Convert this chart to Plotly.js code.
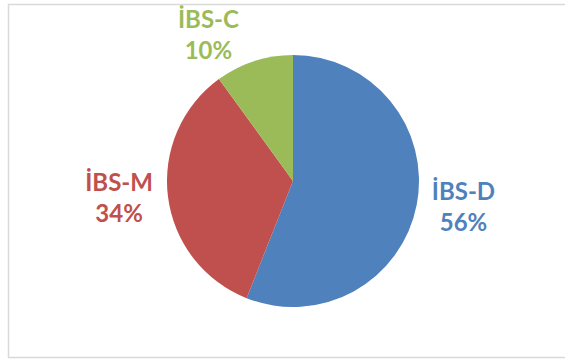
<!DOCTYPE html>
<html>
<head>
<meta charset="utf-8">
<script src="https://cdn.plot.ly/plotly-3.0.1.min.js"></script>
<style>html,body{margin:0;padding:0;background:#fff;}#chart{width:565px;height:359px;}</style>
</head>
<body>
<div id="chart"></div>
<script>
const categories = ["İBS-D", "İBS-M", "İBS-C"];
const values = [56, 34, 10];
const colors = ["#4F81BD", "#C0504D", "#9BBB59"];

const W = 565, H = 359;
const cx = 293, cy = 181, r = 126;

const trace = {
  type: "pie",
  labels: categories,
  values: values,
  sort: false,
  direction: "clockwise",
  rotation: 0,
  marker: {colors: colors, line: {width: 0}},
  textposition: "outside",
  texttemplate: "%{label}<br>%{percent:.0%}",
  outsidetextfont: {family: "Lato, 'Open Sans', sans-serif", size: 24, color: colors, weight: "bold"},
  automargin: false,
  showlegend: false,
  hoverinfo: "none",
  domain: {
    x: [(cx - r) / W, (cx + r) / W],
    y: [(H - cy - r) / H, (H - cy + r) / H]
  }
};

const layout = {
  width: W, height: H,
  margin: {l: 0, r: 0, t: 0, b: 0},
  paper_bgcolor: "#ffffff",
  showlegend: false,
  shapes: [{
    type: "rect", xref: "paper", yref: "paper",
    x0: 8.5 / W, x1: 1.05, y0: 1 - 357.5 / H, y1: 1 - 4.5 / H,
    line: {color: "#d9d9d9", width: 1.5}
  }]
};

Plotly.newPlot("chart", [trace], layout, {staticPlot: true, displayModeBar: false});
</script>
</body>
</html>
